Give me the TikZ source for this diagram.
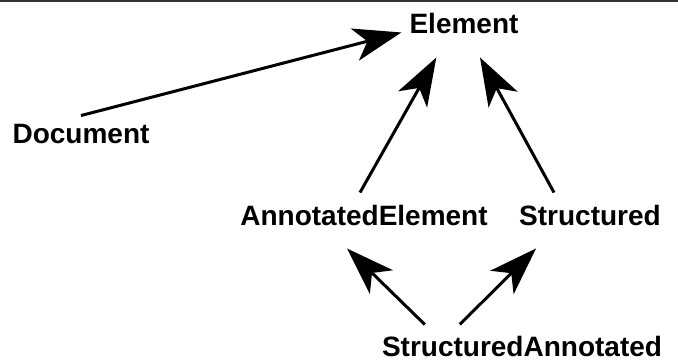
\documentclass[tikz,border=0pt]{standalone}
\usepackage{fontspec}
\setmainfont{Liberation Sans}
\usetikzlibrary{arrows.meta}

\tikzset{
  cls/.style={font=\bfseries\fontsize{28}{34}\selectfont, inner sep=0pt, anchor=base},
  inherit/.style={line width=3pt, -{Stealth[length=48pt, width=33pt, inset=13pt]}}
}

\begin{document}
\begin{tikzpicture}[x=1pt, y=-1pt]
    % Fix the canvas
    \useasboundingbox (0,0) rectangle (678,360);

    % Rule at the top
    \draw[line width=1.5pt, black!80] (0,0.75) -- (678,0.75);

    % Class names
    \node[cls] (element)    at (464,33)  {Element};
    \node[cls] (document)   at (81,143)  {Document};
    \node[cls] (annotated)  at (364,225) {AnnotatedElement};
    \node[cls] (structured) at (590,225) {Structured};
    \node[cls] (both)       at (522,356) {StructuredAnnotated};

    % Inheritance arrows
    \draw[inherit] ([yshift=8pt]document.north) -- ([xshift=-8pt, yshift=1pt]element.south west);
    \draw[inherit] ([xshift=-4pt, yshift=12pt]annotated.north) -- ([xshift=27pt, yshift=-24pt]element.south west);
    \draw[inherit] ([xshift=35pt, yshift=12pt]structured.north west) -- ([xshift=16pt, yshift=-24pt]element.south);
    \draw[inherit] ([xshift=43pt, yshift=11pt]both.north west) -- ([xshift=-17pt, yshift=-23pt]annotated.south);
    \draw[inherit] ([xshift=78pt, yshift=11pt]both.north west) -- ([xshift=17pt, yshift=-23pt]structured.south west);
\end{tikzpicture}
\end{document}
